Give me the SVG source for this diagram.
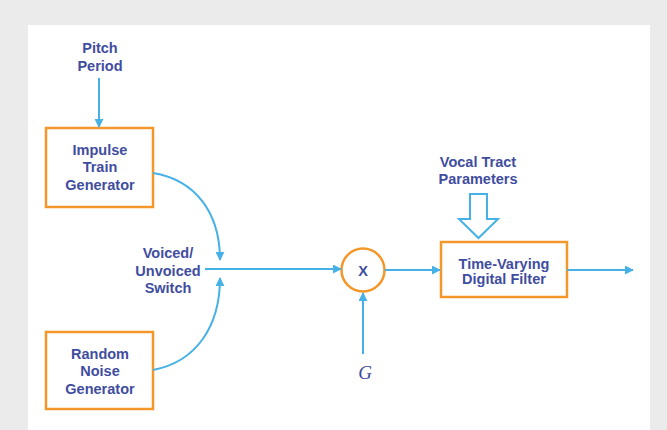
<svg xmlns="http://www.w3.org/2000/svg" width="667" height="430" viewBox="0 0 667 430">
<defs>
<style>
.box{fill:#fff;stroke:#f3972a;stroke-width:2.5}
.t{font-family:"Liberation Sans",Arial,sans-serif;font-weight:bold;font-size:14.5px;fill:#3f4d9f;text-anchor:middle;dominant-baseline:central}
.c{fill:none;stroke:#46b1e6;stroke-width:2}
</style>
<marker id="ah" viewBox="0 0 10 10" refX="9" refY="5" markerWidth="4.5" markerHeight="4.5" orient="auto" markerUnits="strokeWidth">
<path d="M0,0 L10,5 L0,10 Z" fill="#46b1e6"/>
</marker>
</defs>
<rect x="0" y="0" width="667" height="430" fill="#ebebeb"/>
<rect x="28" y="25" width="622" height="405" fill="#fff"/>

<g id="pitch">
<text class="t" x="100" y="48">Pitch</text>
<text class="t" x="100" y="66">Period</text>
</g>
<g id="impulse">
<rect class="box" x="46" y="128" width="107" height="79"/>
<text class="t" x="100" y="150">Impulse</text>
<text class="t" x="100" y="167">Train</text>
<text class="t" x="100" y="185">Generator</text>
</g>
<g id="noise">
<rect class="box" x="46" y="332" width="107" height="77"/>
<text class="t" x="100" y="354">Random</text>
<text class="t" x="100" y="371">Noise</text>
<text class="t" x="100" y="389">Generator</text>
</g>
<g id="switch">
<text class="t" x="168" y="253">Voiced/</text>
<text class="t" x="168" y="271">Unvoiced</text>
<text class="t" x="168" y="288">Switch</text>
</g>
<g id="mult">
<circle cx="363" cy="270" r="21.5" fill="#fff" stroke="#f3972a" stroke-width="2.5"/>
<text class="t" x="363" y="271">X</text>
</g>
<g id="gain">
<text x="365" y="372" font-family="Liberation Serif,serif" font-style="italic" font-size="19" fill="#3f4d9f" text-anchor="middle" dominant-baseline="central">G</text>
</g>
<g id="vocal">
<text class="t" x="478" y="162">Vocal Tract</text>
<text class="t" x="478" y="179">Parameters</text>
</g>
<g id="filter">
<rect class="box" x="441" y="242" width="126" height="55"/>
<text class="t" x="504" y="264">Time-Varying</text>
<text class="t" x="504" y="279">Digital Filter</text>
</g>

<g id="connectors">
<path class="c" d="M99,78 V127" marker-end="url(#ah)"/>
<path class="c" d="M153,173 C195,180 220,212 220,260" marker-end="url(#ah)"/>
<path class="c" d="M153,370 C195,362 220,328 220,278" marker-end="url(#ah)"/>
<path class="c" d="M205,269 H341" marker-end="url(#ah)"/>
<path class="c" d="M363,354 V293" marker-end="url(#ah)"/>
<path class="c" d="M385,270 H440" marker-end="url(#ah)"/>
<path class="c" d="M567,270 H633" marker-end="url(#ah)"/>
<path d="M470,194 H487 V219 H498 L478.5,238 L459,219 H470 Z" fill="#fff" stroke="#46b1e6" stroke-width="2" stroke-linejoin="miter"/>
</g>
</svg>
